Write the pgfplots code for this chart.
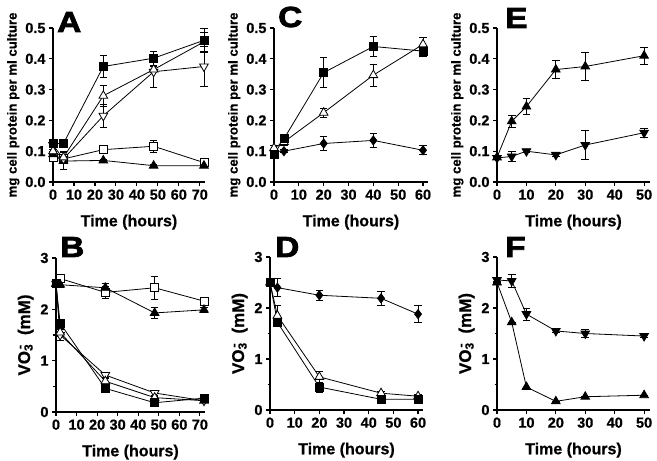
\documentclass[border=0pt]{standalone}
\usepackage{fontspec}
\setmainfont{Liberation Sans}[BoldFeatures={FakeBold=0.6}]
\newfontfamily\letterfont[FakeBold=2.5]{Liberation Sans Bold}
\usepackage{pgfplots}
\pgfplotsset{compat=1.18}
\pgfplotsset{
  panel/.style={
    scale only axis,
    axis lines=left,
    axis line style={-, line width=1.3pt, black},
    x axis line style={shorten <=-3pt},
    tick style={black, line width=1.2pt},
    major tick length=4pt,
    minor tick length=2.5pt,
    tick align=outside,
    ticklabel style={font=\fontsize{14.5}{14.5}\selectfont\bfseries},
    /pgf/number format/assume math mode=true,
    xlabel style={font=\fontsize{16}{16}\selectfont\bfseries, yshift=-8pt},
    xlabel={Time (hours)},
    xmin=0, ymin=0,
    clip=false,
    anchor=south west,
  },
  toprow/.style={panel, ymax=0.5, ytick={0,0.1,...,0.5},
    yticklabel style={/pgf/number format/.cd, fixed, fixed zerofill, precision=1},
    ylabel={mg cell protein per ml culture},
    ylabel style={font=\fontsize{13.2}{13.2}\selectfont\bfseries, yshift=-1pt}},
  botrow/.style={panel, ymax=3, ytick={0,1,2,3}, minor ytick={0.5,1.5,2.5},
    ylabel={VO\rlap{\textsubscript{3}}\textsuperscript{\,-}\ \ (mM)},
    ylabel style={font=\fontsize{17}{17}\selectfont\bfseries}},
  ser/.style={black, line width=0.8pt, mark size=4pt,
    mark options={solid, line width=0.8pt, black},
    /pgfplots/error bars/y dir=both,
    /pgfplots/error bars/y explicit,
    /pgfplots/error bars/error bar style={line width=0.8pt, black},
    /pgfplots/error bars/error mark options={line width=0.8pt, black, mark size=3.8pt, rotate=90}},
  sqF/.style={ser, mark=square*, mark options={fill=black}},
  sqO/.style={ser, mark=square*, mark options={fill=white}},
  triF/.style={ser, mark=triangle*, mark size=5pt, mark options={fill=black}},
  triO/.style={ser, mark=triangle*, mark size=5pt, mark options={fill=white}},
  tridF/.style={ser, mark=triangle*, mark size=5pt, mark options={fill=black, rotate=180}},
  tridO/.style={ser, mark=triangle*, mark size=5pt, mark options={fill=white, rotate=180}},
  diaF/.style={ser, mark=diamond*, mark size=4.6pt, mark options={fill=black}},
}
\newcommand{\panelletter}[1]{\letterfont\fontsize{29}{29}\selectfont\scalebox{1.15}[1]{#1}}
\begin{document}
\begin{tikzpicture}[x=1pt,y=1pt]
\useasboundingbox (0,0) rectangle (657,461);

% ---------- A ----------
\begin{axis}[toprow, at={(53pt,279pt)}, width=152pt, height=154pt, xmax=72.5, xtick={0,10,...,70}]
\addplot[sqO] table[y error index=2] {
0 0.080 0.010
5 0.075 0.010
24 0.105 0.005
48 0.116 0.020
72 0.063 0.005
};
\addplot[triF] table[y error index=2] {
0 0.090 0.010
5 0.068 0.027
24 0.070 0.003
48 0.053 0.003
72 0.053 0.003
};
\addplot[tridO] table[y error index=2] {
0 0.120 0.015
5 0.075 0.010
24 0.215 0.037
48 0.358 0.050
72 0.375 0.065
};
\addplot[triO] table[y error index=2] {
0 0.100 0.020
5 0.080 0.020
24 0.280 0.035
48 0.365 0.010
72 0.455 0.030
};
\addplot[sqF] table[y error index=2] {
0 0.125 0.010
5 0.125 0.010
24 0.375 0.037
48 0.402 0.022
72 0.460 0.040
};
\end{axis}

% ---------- C ----------
\begin{axis}[toprow, at={(274pt,279pt)}, width=154pt, height=154pt, xmax=62, xtick={0,10,...,60}]
\addplot[diaF] table[y error index=2] {
0 0.100 0.020
4 0.100 0.005
20 0.125 0.022
40 0.135 0.023
60 0.103 0.015
};
\addplot[triO] table[y error index=2] {
0 0.110 0.010
4 0.130 0.010
20 0.225 0.015
40 0.347 0.035
60 0.447 0.024
};
\addplot[sqF] table[y error index=2] {
0 0.090 0.010
4 0.140 0.010
20 0.355 0.048
40 0.440 0.032
60 0.425 0.018
};
\end{axis}

% ---------- E ----------
\begin{axis}[toprow, at={(497pt,279pt)}, width=153pt, height=154pt, xmax=52, xtick={0,10,...,50}]
\addplot[tridF] table[y error index=2] {
0 0.078 0.005
5 0.083 0.015
10 0.100 0.005
20 0.088 0.005
30 0.120 0.046
50 0.160 0.015
};
\addplot[triF] table[y error index=2] {
0 0.080 0.005
5 0.197 0.020
10 0.245 0.025
20 0.365 0.030
30 0.375 0.045
50 0.410 0.027
};
\end{axis}

% ---------- B ----------
\begin{axis}[botrow, at={(56pt,49pt)}, width=149pt, height=154pt, xmax=72.5, xtick={0,10,...,70}]
\addplot[sqO] table[y error index=2] {
0 2.50 0.00
2 2.60 0.05
24 2.33 0.12
48 2.42 0.23
72 2.16 0.08
};
\addplot[triF] table[y error index=2] {
0 2.50 0.00
2 2.48 0.05
24 2.42 0.09
48 1.93 0.10
72 1.99 0.04
};
\addplot[tridO] table[y error index=2] {
0 2.50 0.00
2 1.50 0.10
24 0.72 0.05
48 0.37 0.05
72 0.22 0.03
};
\addplot[triO] table[y error index=2] {
0 2.50 0.00
2 1.55 0.08
24 0.60 0.05
48 0.28 0.03
72 0.22 0.03
};
\addplot[sqF] table[y error index=2] {
0 2.50 0.00
2 1.73 0.05
24 0.46 0.05
48 0.18 0.03
72 0.27 0.03
};
\end{axis}

% ---------- D ----------
\begin{axis}[botrow, at={(270pt,51pt)}, width=153pt, height=153pt, xmax=62, xtick={0,10,...,60}]
\addplot[diaF] table[y error index=2] {
0 2.50 0.00
3 2.40 0.18
20 2.25 0.10
45 2.19 0.14
60 1.88 0.17
};
\addplot[triO] table[y error index=2] {
0 2.50 0.00
3 1.85 0.20
20 0.65 0.10
45 0.33 0.03
60 0.27 0.03
};
\addplot[sqF] table[y error index=2] {
0 2.50 0.00
3 1.72 0.05
20 0.45 0.10
45 0.21 0.03
60 0.21 0.03
};
\end{axis}

% ---------- F ----------
\begin{axis}[botrow, at={(497pt,51pt)}, width=153pt, height=153pt, xmax=52, xtick={0,10,...,50}]
\addplot[tridF] table[y error index=2] {
0 2.55 0.03
5 2.53 0.12
10 1.88 0.12
20 1.55 0.03
30 1.50 0.08
50 1.45 0.03
};
\addplot[triF] table[y error index=2] {
0 2.50 0.00
5 1.72 0.00
10 0.45 0.00
20 0.17 0.00
30 0.26 0.00
50 0.29 0.00
};
\end{axis}

% panel letters
\node[anchor=base west, inner sep=0pt] at (57,429) {\panelletter{A}};
\node[anchor=base west, inner sep=0pt] at (278,434) {\panelletter{C}};
\node[anchor=base west, inner sep=0pt] at (505,433) {\panelletter{E}};
\node[anchor=base west, inner sep=0pt] at (60,204) {\panelletter{B}};
\node[anchor=base west, inner sep=0pt] at (275,204) {\panelletter{D}};
\node[anchor=base west, inner sep=0pt] at (505,204) {\panelletter{F}};
\end{tikzpicture}
\end{document}
